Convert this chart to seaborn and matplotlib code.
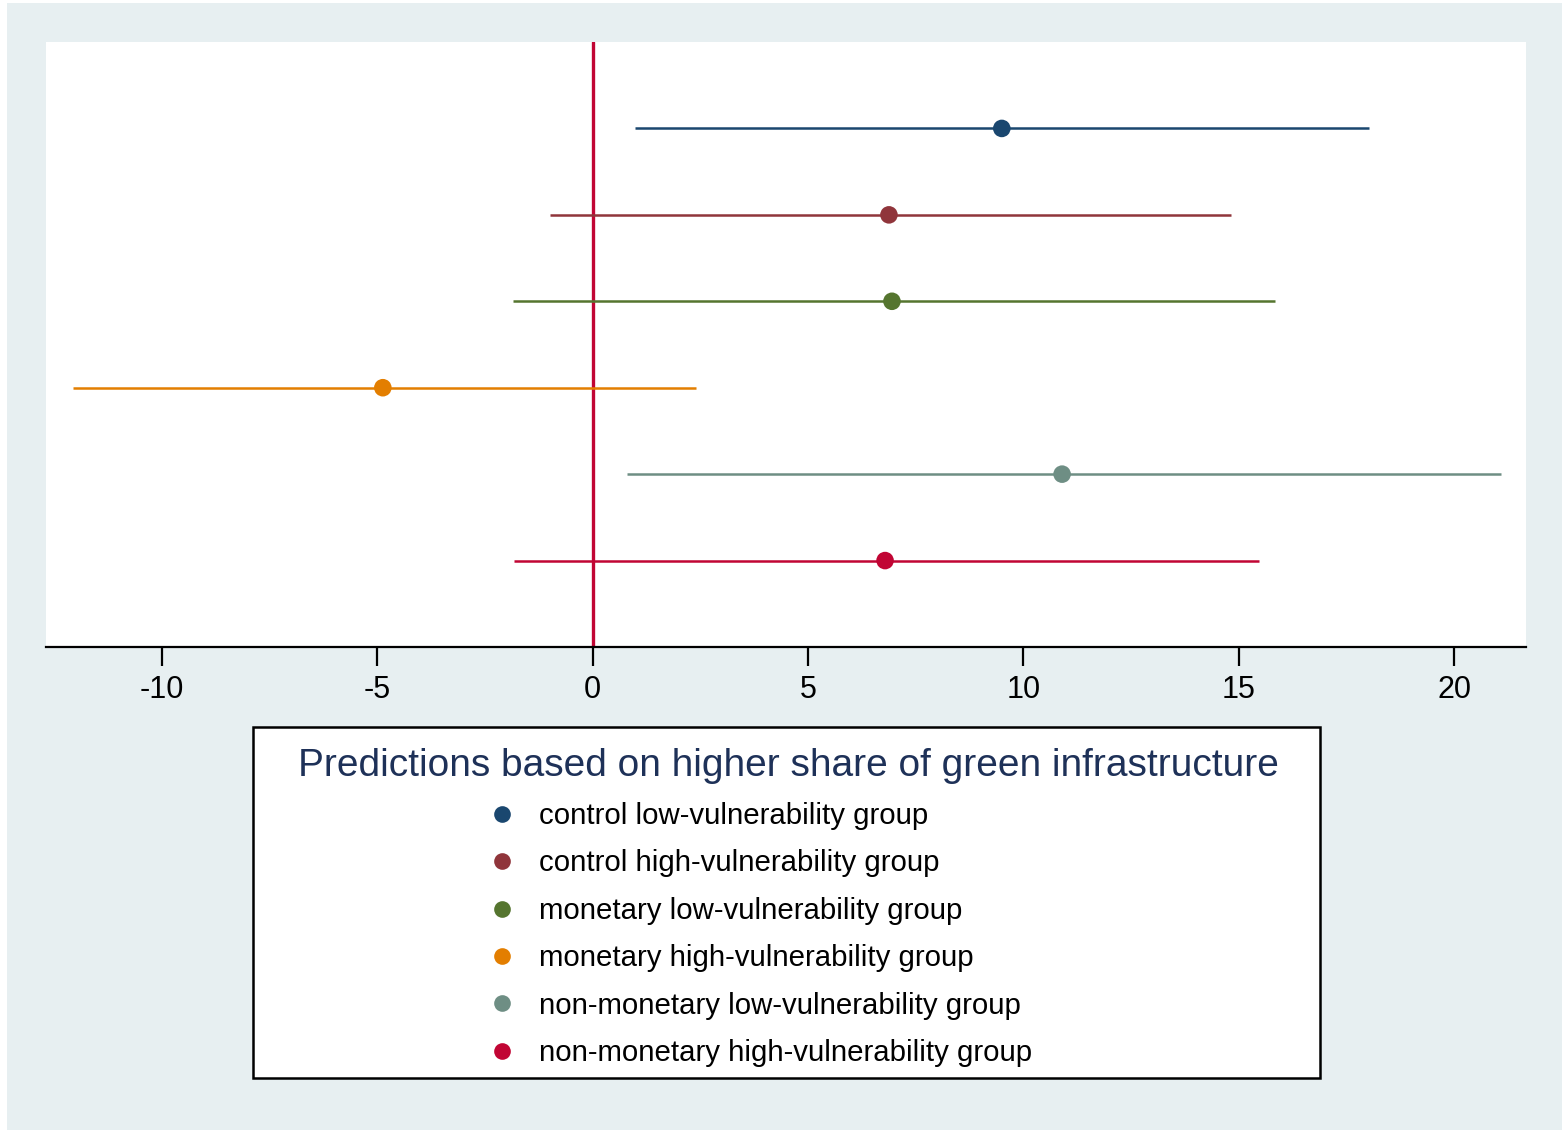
import numpy as np
import pandas as pd
import matplotlib
matplotlib.use("Agg")
import matplotlib.pyplot as plt
from matplotlib.patches import Rectangle
from matplotlib.lines import Line2D
import seaborn as sns

# Point estimates with 95% confidence bounds per treatment group
groups = [
    "control low-vulnerability group",
    "control high-vulnerability group",
    "monetary low-vulnerability group",
    "monetary high-vulnerability group",
    "non-monetary low-vulnerability group",
    "non-monetary high-vulnerability group",
]
estimates = [9.50, 6.88, 6.95, -4.87, 10.90, 6.79]
lower = [0.98, -0.99, -1.85, -12.07, 0.80, -1.82]
upper = [18.03, 14.82, 15.84, 2.40, 21.09, 15.47]
colors = ["#1a476f", "#90353b", "#55752f", "#e37e00", "#6e8e84", "#c10534"]
x_ticks = [-10, -5, 0, 5, 10, 15, 20]
legend_title = "Predictions based on higher share of green infrastructure"

df = pd.DataFrame({
    "group": groups,
    "estimate": estimates,
    "lower": lower,
    "upper": upper,
    "row": np.arange(1, len(groups) + 1),
})

sns.set_style("white")
plt.rcParams["font.family"] = ["Liberation Sans", "DejaVu Sans"]
plt.rcParams["text.color"] = "black"

W, H = 1562, 1131
fig = plt.figure(figsize=(W / 100, H / 100), dpi=100, facecolor="white")

bg = "#e7eff1"
fig.patches.append(Rectangle((7 / W, 1 / H), (W - 7) / W, (H - 4) / H,
                             transform=fig.transFigure, facecolor=bg,
                             edgecolor="none", zorder=-10))

ax = fig.add_axes([46 / W, 1 - 647 / H, (1526 - 46) / W, (647 - 42) / H])
ax.set_facecolor("white")

palette = dict(zip(groups, colors))

# confidence intervals
for _, r in df.iterrows():
    ax.hlines(r["row"], r["lower"], r["upper"], color=palette[r["group"]],
              linewidth=1.8, zorder=2)

# reference line at zero
ax.axvline(0, color="#c10534", linewidth=2.4, zorder=1)

sns.scatterplot(data=df, x="estimate", y="row", hue="group", palette=palette,
                s=160, edgecolor="none", legend=False, ax=ax, zorder=3)

ax.set_xlim(-12.69, 21.67)
ax.set_ylim(7, 0)
ax.set_xticks(x_ticks)
ax.set_xticklabels([str(t) for t in x_ticks])
ax.set_yticks([])
ax.set_xlabel("")
ax.set_ylabel("")
for s in ["top", "right", "left"]:
    ax.spines[s].set_visible(False)
ax.spines["bottom"].set_linewidth(1.6)
ax.spines["bottom"].set_color("black")
ax.tick_params(axis="x", direction="out", length=14, width=1.6, color="black",
               labelsize=22, pad=6, labelcolor="black", bottom=True)

# legend frame
fig.patches.append(Rectangle((253 / W, 1 - 1078 / H), (1320 - 253) / W, (1078 - 727) / H,
                             transform=fig.transFigure, facecolor="white",
                             edgecolor="black", linewidth=1.8, zorder=1))
fig.text(788 / W, 1 - 766 / H, legend_title, ha="center", va="center",
         fontsize=28, color="#1e3158", zorder=5)

handles = [Line2D([0], [0], marker="o", linestyle="none", markersize=12,
                  markerfacecolor=c, markeredgecolor="none") for c in colors]
leg = fig.legend(handles, groups, loc="upper left",
                 bbox_to_anchor=(487 / W, 1 - 802 / H), frameon=False,
                 fontsize=21.2, handlelength=1.0, handletextpad=0.75,
                 labelspacing=0.66, borderpad=0, borderaxespad=0,
                 labelcolor="black")
leg.set_zorder(5)

fig.savefig("out.png", dpi=100, facecolor=fig.get_facecolor())
